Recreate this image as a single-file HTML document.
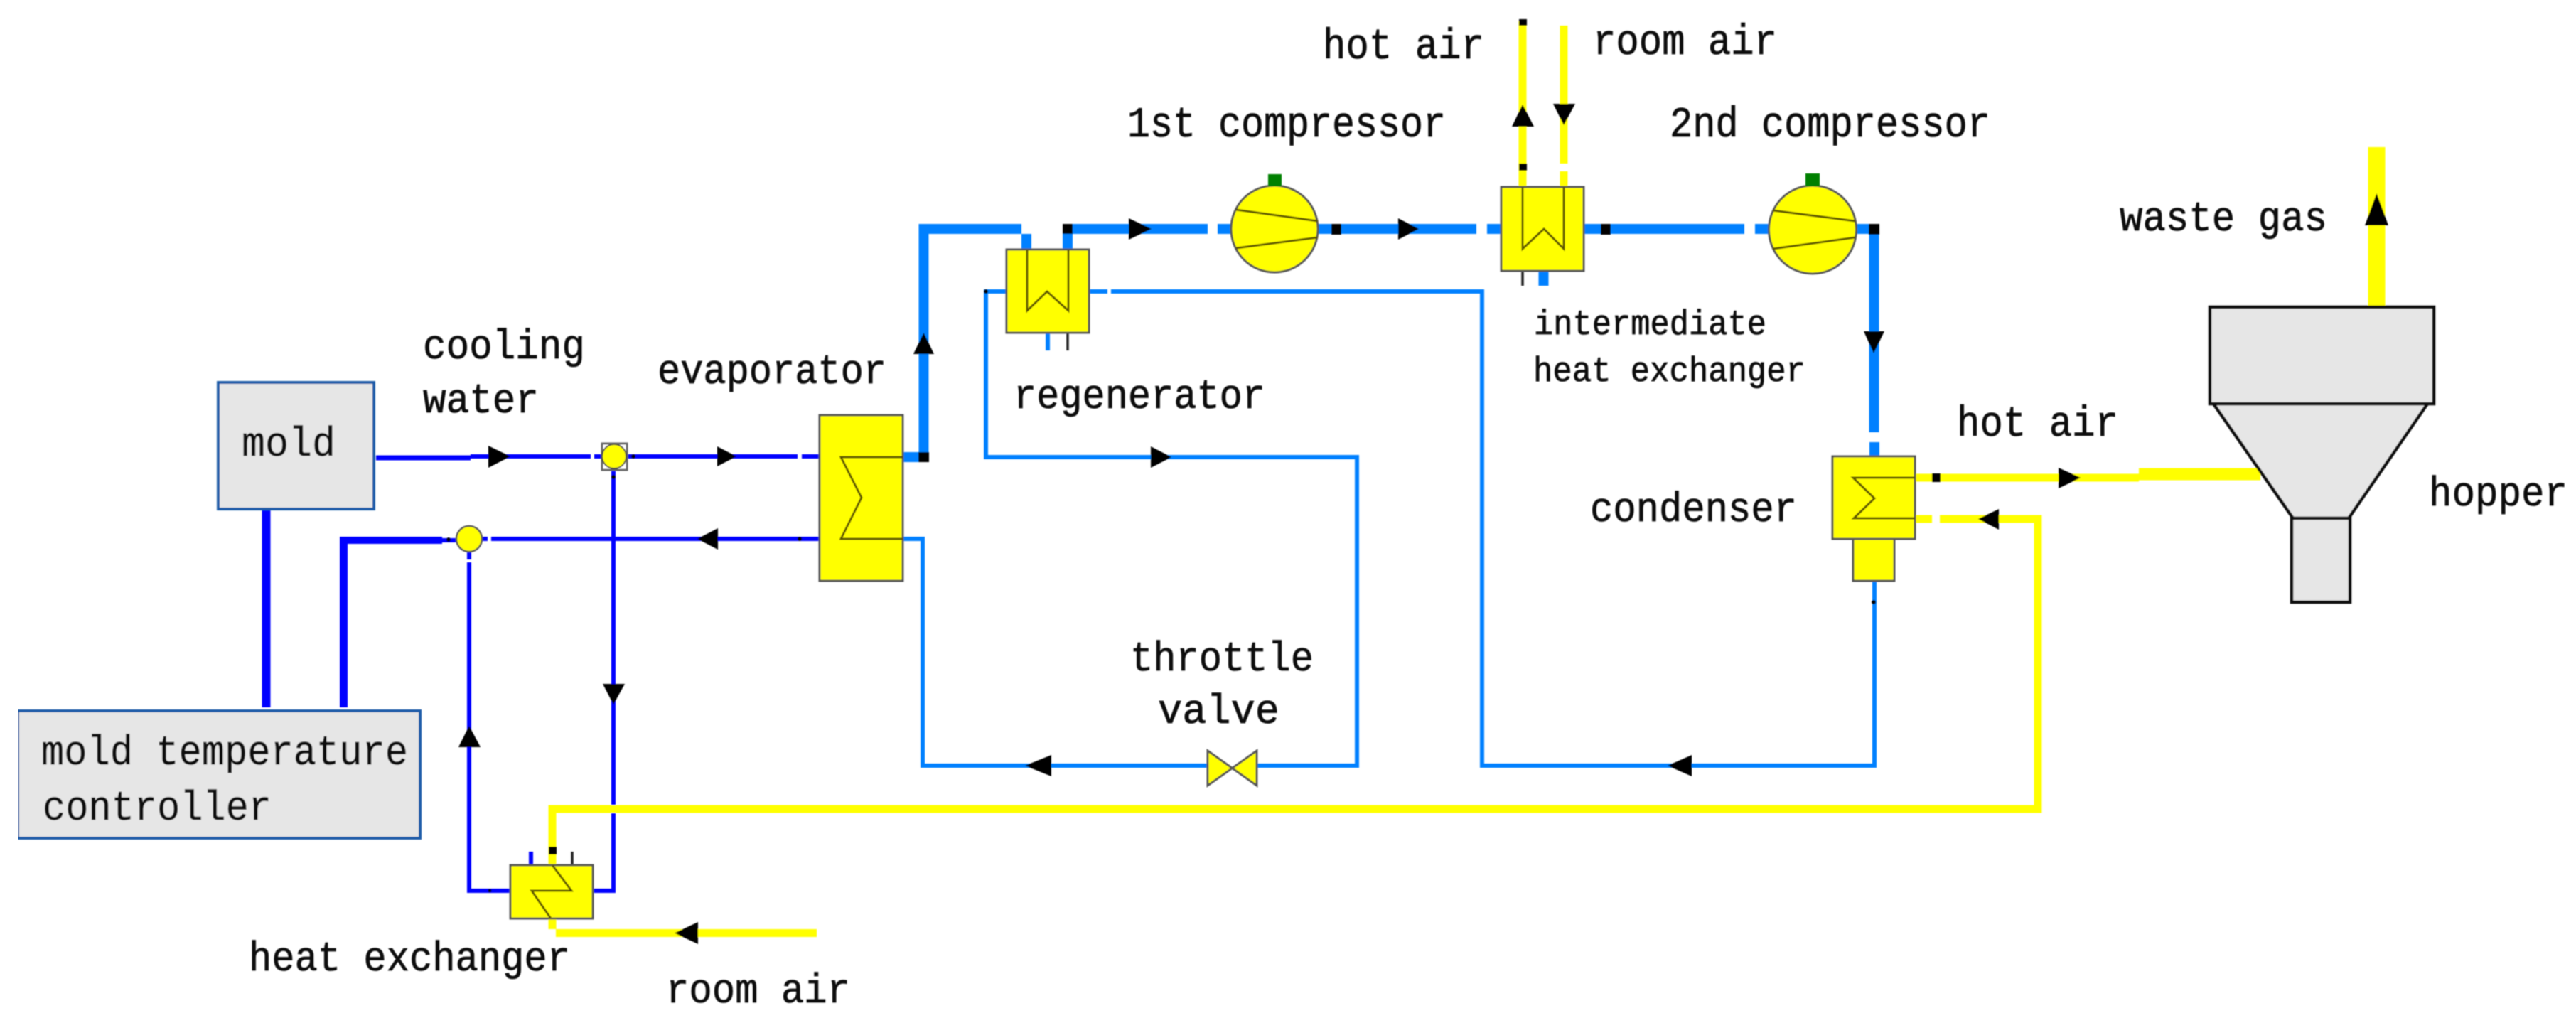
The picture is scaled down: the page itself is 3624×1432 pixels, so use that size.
<!DOCTYPE html>
<html>
<head>
<meta charset="utf-8">
<style>
html,body{margin:0;padding:0;background:#fff;width:3624px;height:1432px;overflow:hidden}
svg{display:block}
text{font-family:"Liberation Mono",monospace;font-size:54px;fill:#111;stroke:#111;stroke-width:.7}
.n{fill:none}
.t{stroke:#0080ff;stroke-width:14}
.s{stroke:#0080ff;stroke-width:6}
.d{stroke:#0000ff;stroke-width:6}
.y{stroke:#ffff00;stroke-width:11}
.e{fill:#ffff00;stroke:#555;stroke-width:3}
.z{fill:none;stroke:#5a5200;stroke-width:3;stroke-linejoin:miter}
.g{fill:#e6e6e6;stroke:#1a5ca8;stroke-width:4}
.h{fill:#e6e6e6;stroke:#111;stroke-width:4.5}
</style>
</head>
<body>
<svg width="3624" height="1432" viewBox="0 0 3624 1432" xmlns="http://www.w3.org/2000/svg">
<defs><filter id="b" x="0" y="0" width="100%" height="100%"><feGaussianBlur stdDeviation="0.7"/></filter></defs>
<rect width="3624" height="1432" fill="#fff"/>
<g filter="url(#b)">
<!-- thin light blue -->
<g class="n s" fill="none">
<path class="s" fill="none" d="M1270 758H1298V1077H1699"/>
<path class="s" fill="none" d="M1768 1077H1909V643H1387V410H1416"/>
<path class="s" fill="none" d="M1532 410H1558M1563 410H2085V1077H2637V817"/>
<path class="s" fill="none" d="M1474 468V493"/>
</g>
<!-- thick light blue -->
<path class="t" fill="none" d="M1270 643H1299.5V322H1437"/>
<path class="t" fill="none" d="M1444 329V351"/>
<path class="t" fill="none" d="M1502 351V322H1699M1713 322H1740M1850 322H2077M2092 322H2112M2228 322H2454M2469 322H2495M2605 322H2636.5V608M2637 622V642"/>
<path class="t" fill="none" d="M2171.5 381V402"/>
<!-- dark blue -->
<path fill="none" stroke="#0000ff" stroke-width="7" d="M529 644H662"/>
<path class="d" fill="none" d="M662 642H831M836 642H850M880 642H1122M1128 642H1153"/>
<path class="d" fill="none" d="M1153 758H691M686 758H675M645 760H620"/>
<path fill="none" stroke="#0000ff" stroke-width="10" d="M478 760H622"/>
<path fill="none" stroke="#0000ff" stroke-width="12" d="M374.5 716V995"/>
<path fill="none" stroke="#0000ff" stroke-width="11" d="M483.5 756V995"/>
<path class="d" fill="none" d="M863 661V1253H834M718 1253H660V791M660 787V776"/>
<path class="d" fill="none" d="M747 1198V1217"/>
<path fill="none" stroke="#222" stroke-width="3.5" d="M805 1198V1217M1502 468V493M2142 381V402"/>
<!-- yellow -->
<path class="y" fill="none" d="M2142 30V263M2200 36V230M2200 241V263"/>
<path class="y" fill="none" d="M2694 672H3009M2694 730H2718M2729 730H2867V1138H777V1217"/>
<path fill="none" stroke="#ffff00" stroke-width="17" d="M3009 667H3180"/>
<path fill="none" stroke="#ffff00" stroke-width="24" d="M3343.5 207V434"/>
<path class="y" fill="none" d="M777 1292V1307"/>
<path class="y" fill="none" d="M782 1312.5H1149"/>
<!-- equipment -->
<rect class="e" x="1153" y="584" width="117" height="233"/>
<path class="z" d="M1270 643H1183L1212 700L1183 758H1270"/>
<rect class="e" x="1416" y="351" width="116" height="117"/>
<path class="z" d="M1445 351V437L1473 410L1503 437V351"/>
<rect class="e" x="2112" y="263" width="116" height="118"/>
<path class="z" d="M2142 263V350L2172 322L2200 350V263"/>
<ellipse class="e" cx="1793" cy="322" rx="61" ry="61"/>
<path class="z" stroke-width="3.5" d="M1739 295L1854 311M1739 349L1854 334"/>
<rect x="1784" y="245" width="19" height="17" fill="#008000"/>
<ellipse class="e" cx="2550" cy="323" rx="61.500" ry="62"/>
<path class="z" stroke-width="3.5" d="M2494 296L2610 311M2494 350L2610 334"/>
<rect x="2540" y="244" width="20" height="18" fill="#008000"/>
<rect class="e" x="2607" y="758" width="58" height="59"/>
<rect class="e" x="2578" y="642" width="116" height="116"/>
<path class="z" stroke-width="4" d="M2694 672H2607L2637 701L2608 729H2694"/>
<rect class="e" x="718" y="1217" width="116" height="75"/>
<path class="z" stroke-width="3.500" d="M777 1217L804 1253H748L775 1292"/>
<!-- valve -->
<path d="M1699 1056L1768 1105V1056L1699 1105Z" fill="#ffff00" stroke="#555" stroke-width="3"/>
<!-- junctions -->
<rect x="847" y="624" width="35" height="37" fill="#fff" stroke="#666" stroke-width="3"/>
<circle cx="864" cy="642" r="17" fill="#ffff00" stroke="#444" stroke-width="2"/>
<circle cx="660" cy="758" r="18" fill="#ffff00" stroke="#555" stroke-width="2.500"/>
<!-- hopper -->
<path class="h" d="M3114 568H3415L3304 729H3226Z"/>
<rect class="h" x="3109" y="432" width="315" height="136"/>
<rect class="h" x="3224" y="729" width="82" height="118"/>
<!-- boxes -->
<rect class="g" x="307" y="538" width="219" height="178"/>
<rect class="g" x="25" y="1000" width="566" height="179"/>
<!-- black squares -->
<g fill="#000">
<rect x="1292" y="636" width="15" height="14"/>
<rect x="1495" y="315" width="14" height="14"/>
<rect x="1873" y="315" width="14" height="15"/>
<rect x="2252" y="315" width="14" height="15"/>
<rect x="2629" y="315" width="15" height="15"/>
<rect x="2137" y="27" width="11" height="9"/>
<rect x="2137" y="230" width="11" height="10"/>
<rect x="2718" y="666" width="12" height="12"/>
<rect x="772" y="1191" width="11" height="11"/>
<circle cx="1387" cy="410" r="3"/><circle cx="1125" cy="758" r="3"/>
<circle cx="631" cy="759" r="3"/><circle cx="891" cy="642" r="3"/>
<circle cx="863" cy="671" r="3"/><circle cx="2636" cy="847" r="3"/>
<circle cx="689" cy="1253" r="2.500"/>
</g>
<!-- arrows -->
<g fill="#000">
<path d="M687 627L718 642L687 658Z"/>
<path d="M1009 628L1036 642L1009 656Z"/>
<path d="M1010 743L981 758L1010 773Z"/>
<path d="M848 962H879L863 991Z"/>
<path d="M645 1051H676L660 1021Z"/>
<path d="M1285 498H1314L1299.5 468Z"/>
<path d="M1588 307L1620 322L1588 337Z"/>
<path d="M1967 307L1996 322L1967 337Z"/>
<path d="M2127 178H2158L2142 147Z"/>
<path d="M2185 146H2216L2200 176Z"/>
<path d="M2622 466H2651L2636 497Z"/>
<path d="M1619 628L1648 643L1619 658Z"/>
<path d="M2380 1062L2346 1077L2380 1092Z"/>
<path d="M1479 1062L1442 1077L1479 1092Z"/>
<path d="M2896 658L2927 672L2896 687Z"/>
<path d="M2812 716L2783 730L2812 745Z"/>
<path d="M3327 317H3360L3343.5 272Z"/>
<path d="M982 1297L949 1312.500L982 1328Z"/>
</g>
<!-- labels -->
<text transform="translate(1861 82) scale(1 1.12)" textLength="227" lengthAdjust="spacingAndGlyphs">hot air</text>
<text transform="translate(2241 76) scale(1 1.12)" textLength="259" lengthAdjust="spacingAndGlyphs">room air</text>
<text transform="translate(1586 192) scale(1 1.12)" textLength="448" lengthAdjust="spacingAndGlyphs">1st compressor</text>
<text transform="translate(2349 192) scale(1 1.12)" textLength="451" lengthAdjust="spacingAndGlyphs">2nd compressor</text>
<text transform="translate(2982 324) scale(1 1.08)" textLength="292" lengthAdjust="spacingAndGlyphs">waste gas</text>
<text transform="translate(2753 613) scale(1 1.12)" textLength="227" lengthAdjust="spacingAndGlyphs">hot air</text>
<text transform="translate(3417 711) scale(1 1.08)" textLength="195" lengthAdjust="spacingAndGlyphs">hopper</text>
<text transform="translate(2237 733) scale(1 1.08)" textLength="291" lengthAdjust="spacingAndGlyphs">condenser</text>
<text transform="translate(2158 470) scale(1 1.1)" textLength="327" lengthAdjust="spacingAndGlyphs" style="font-size:45px">intermediate</text>
<text transform="translate(2157 536) scale(1 1.1)" textLength="383" lengthAdjust="spacingAndGlyphs" style="font-size:45px">heat exchanger</text>
<text transform="translate(1426 574) scale(1 1.08)" textLength="354" lengthAdjust="spacingAndGlyphs">regenerator</text>
<text transform="translate(925 539) scale(1 1.08)" textLength="322" lengthAdjust="spacingAndGlyphs">evaporator</text>
<text transform="translate(595 504) scale(1 1.08)" textLength="228" lengthAdjust="spacingAndGlyphs">cooling</text>
<text transform="translate(595 580) scale(1 1.08)" textLength="163" lengthAdjust="spacingAndGlyphs">water</text>
<text transform="translate(340 641) scale(1 1.08)" textLength="132" lengthAdjust="spacingAndGlyphs">mold</text>
<text transform="translate(58 1075) scale(1 1.08)" textLength="516" lengthAdjust="spacingAndGlyphs">mold temperature</text>
<text transform="translate(60 1153) scale(1 1.08)" textLength="322" lengthAdjust="spacingAndGlyphs">controller</text>
<text transform="translate(350 1365) scale(1 1.08)" textLength="452" lengthAdjust="spacingAndGlyphs">heat exchanger</text>
<text transform="translate(937 1410) scale(1 1.08)" textLength="259" lengthAdjust="spacingAndGlyphs">room air</text>
<text transform="translate(1590 943) scale(1 1.08)" textLength="258" lengthAdjust="spacingAndGlyphs">throttle</text>
<text transform="translate(1629 1017) scale(1 1.08)" textLength="171" lengthAdjust="spacingAndGlyphs">valve</text>
</g>
</svg>
</body>
</html>
